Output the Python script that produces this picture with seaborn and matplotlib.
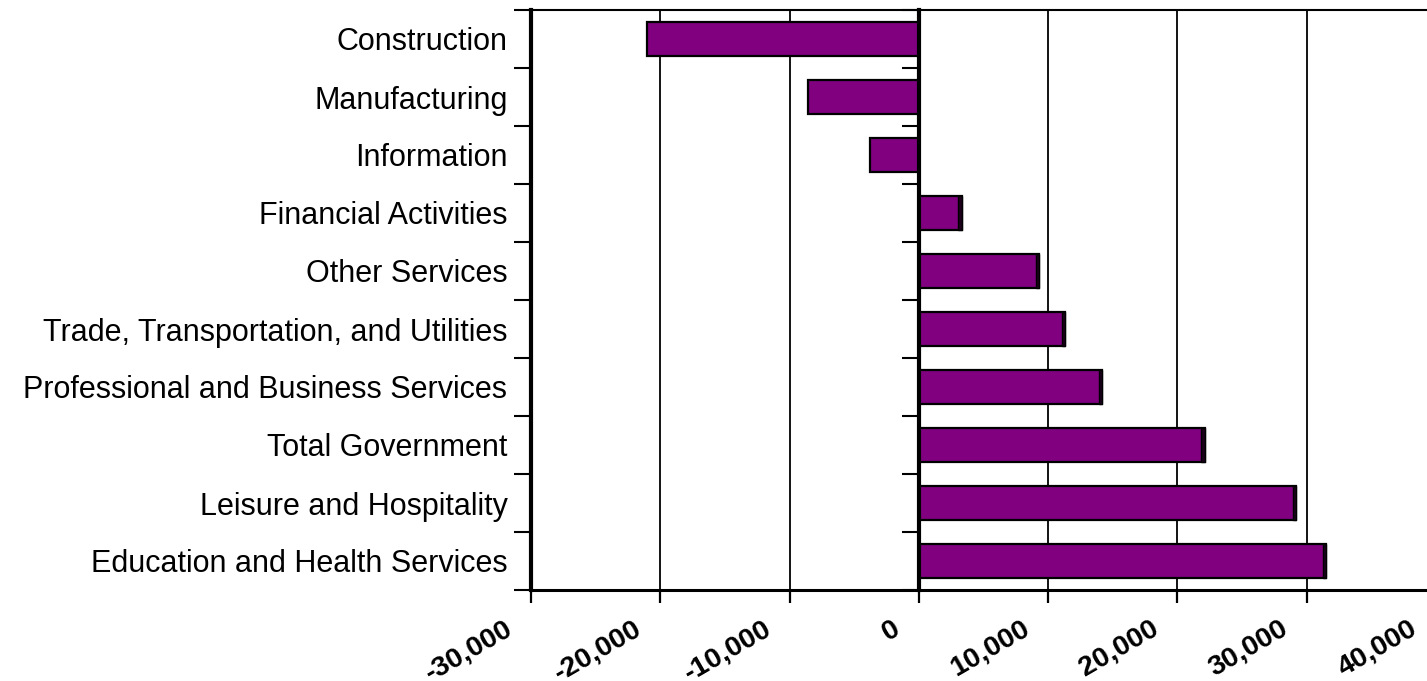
import matplotlib
matplotlib.use('Agg')
import matplotlib.pyplot as plt
import matplotlib.transforms as mtransforms
from matplotlib.ticker import FixedLocator
import seaborn as sns
import pandas as pd
import numpy as np

categories = ["Construction", "Manufacturing", "Information", "Financial Activities",
              "Other Services", "Trade, Transportation, and Utilities",
              "Professional and Business Services", "Total Government",
              "Leisure and Hospitality", "Education and Health Services"]
values = [-21000, -8600, -3800, 3300, 9300, 11300, 14200, 22100, 29200, 31500]
x_ticks = [-30000, -20000, -10000, 0, 10000, 20000, 30000, 40000]
x_tick_labels = ["-30,000", "-20,000", "-10,000", "0", "10,000", "20,000", "30,000", "40,000"]

sns.set_theme(style='white')
plt.rcParams['font.family'] = ['Liberation Sans', 'DejaVu Sans']
plt.rcParams['text.color'] = 'black'
plt.rcParams['xtick.color'] = 'black'
plt.rcParams['ytick.color'] = 'black'

BAR_COLOR = '#800080'
BAR_H = 0.57
DEPTH = 250

fig = plt.figure(figsize=(14.27, 6.81), dpi=100)
ax = fig.add_axes([531 / 1427, 91 / 681, 905 / 1427, 580 / 681])

df = pd.DataFrame({'cat': categories, 'val': values})
sns.barplot(data=df, x='val', y='cat', orient='h', color=BAR_COLOR, saturation=1,
            width=BAR_H, edgecolor='black', linewidth=1.6, ax=ax, zorder=3)

# dark end face of the positive bars (3D depth look)
n = len(categories)
vals = np.array(values)
pos = np.arange(n)[vals > 0]
ax.barh(pos, DEPTH, left=vals[vals > 0] - DEPTH, height=BAR_H,
        color='#1c001c', edgecolor='black', linewidth=1.0, zorder=4)

ax.set_xlim(x_ticks[0], x_ticks[-1])
ax.set_ylim(n - 0.5, -0.5)
ax.set_xlabel('')
ax.set_ylabel('')

# gridlines
ax.set_axisbelow(True)
ax.xaxis.grid(True, color='black', linewidth=1.3)
ax.yaxis.grid(False)

# x axis
ax.set_xticks(x_ticks)
ax.set_xticklabels(x_tick_labels, rotation=30, ha='right', va='top',
                   rotation_mode='anchor', fontweight='bold', fontsize=20.5,
                   color='black')
ax.tick_params(axis='x', which='major', bottom=True, length=9.4, width=1.6,
               color='black', pad=9)
shift = mtransforms.ScaledTranslation(-0.27, 0, fig.dpi_scale_trans)
for lbl in ax.get_xticklabels():
    lbl.set_transform(lbl.get_transform() + shift)

# y axis
ax.set_yticks(range(n))
ax.set_yticklabels(categories, fontsize=22, color='black')
ax.yaxis.set_minor_locator(FixedLocator(np.arange(-0.5, n, 1)))
ax.tick_params(axis='y', which='major', left=True, length=0, pad=17)
ax.tick_params(axis='y', which='minor', left=True, length=12.2, width=1.5,
               color='black', direction='out')

for s in ['left', 'bottom', 'top', 'right']:
    ax.spines[s].set_color('black')
ax.spines['left'].set_linewidth(3)
ax.spines['bottom'].set_linewidth(2.2)
ax.spines['top'].set_linewidth(1.5)
ax.spines['right'].set_visible(False)

# zero line acting as the category axis, with ticks at category boundaries
zero_frac = (0 - x_ticks[0]) / (x_ticks[-1] - x_ticks[0])
sec = ax.secondary_yaxis(zero_frac)
try:
    sec.set_alignment('left')
except Exception:
    pass
sec.set_yticks(np.arange(-0.5, n, 1))
sec.set_yticklabels([''] * len(np.arange(-0.5, n, 1)))
sec.tick_params(axis='y', which='major', length=12, width=1.5, color='black',
                direction='out', labelleft=False, labelright=False)
sec.tick_params(axis='y', which='minor', length=0)
for s in sec.spines.values():
    s.set_color('black')
    s.set_linewidth(3)
sec.set_zorder(5)

fig.savefig('out.png', dpi=100)
